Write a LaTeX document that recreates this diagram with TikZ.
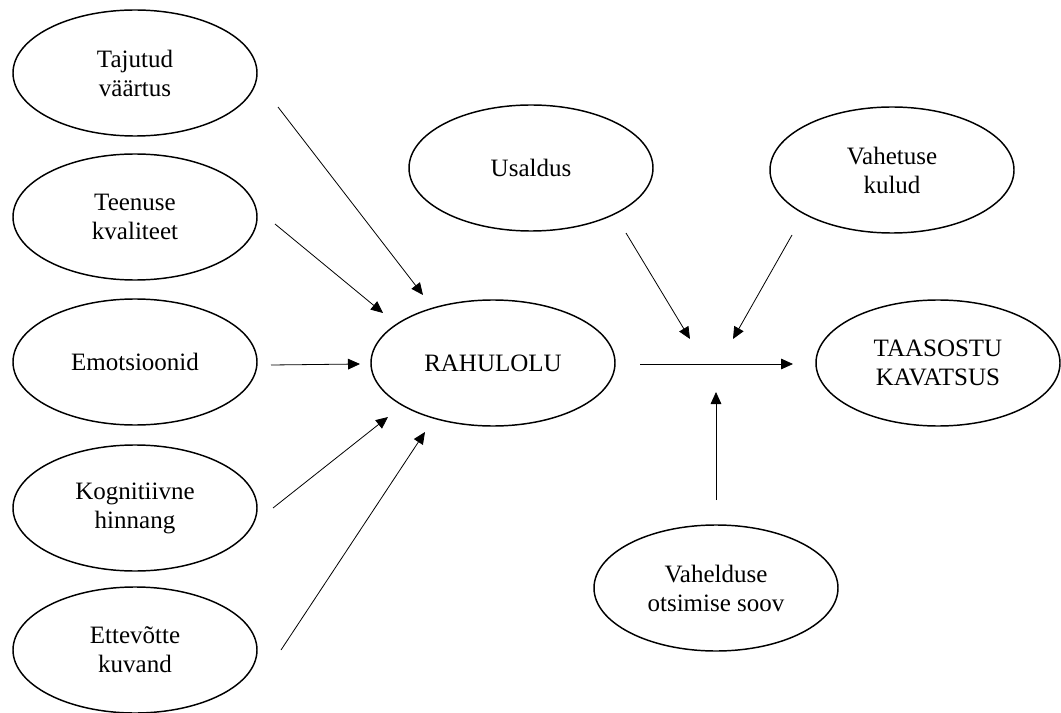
\documentclass[tikz,border=0pt]{standalone}
\usepackage{fontspec}
\setmainfont{Liberation Serif}
\usetikzlibrary{arrows.meta,shapes.geometric}
\begin{document}
\begin{tikzpicture}[x=0.75pt,y=-0.75pt,
  oval/.style={draw, line width=1.1pt, ellipse, minimum width=183pt,
    minimum height=94.5pt, inner sep=0pt, align=center,
    font=\fontsize{18.75}{21.75}\selectfont},
  arr/.style={line width=0.6pt, -{Triangle[length=9pt,width=8pt]}}]
\useasboundingbox (0,0) rectangle (1061,713);

% factors on the left
\node[oval] (taj) at (135,73)  {Tajutud\\väärtus};
\node[oval] (tee) at (135,217) {Teenuse\\kvaliteet};
\node[oval] (emo) at (135,362) {Emotsioonid};
\node[oval] (kog) at (135,508) {Kognitiivne\\hinnang};
\node[oval] (ett) at (135,650) {Ettevõtte\\kuvand};

% central constructs
\node[oval] (rah) at (493,363) {RAHULOLU};
\node[oval] (taa) at (938,363) {TAASOSTU\\KAVATSUS};

% moderators
\node[oval] (usa) at (531,168) {Usaldus};
\node[oval] (vah) at (892,170) {Vahetuse\\kulud};
\node[oval] (vhl) at (716,588) {Vahelduse\\otsimise soov};

% arrow end points
\coordinate (tajS) at (278,107); \coordinate (tajE) at (423,295);
\coordinate (teeS) at (275,224); \coordinate (teeE) at (383,313);
\coordinate (emoS) at (271,365); \coordinate (emoE) at (360,364);
\coordinate (kogS) at (273,508); \coordinate (kogE) at (388,417);
\coordinate (ettS) at (281,650); \coordinate (ettE) at (425,432);
\coordinate (midS) at (640,364); \coordinate (midE) at (793,364);
\coordinate (usaS) at (626,233); \coordinate (usaE) at (690,339);
\coordinate (vahS) at (792,235); \coordinate (vahE) at (733,339);
\coordinate (vhlS) at (716,500); \coordinate (vhlE) at (716,392);

% influences on satisfaction
\draw[arr] (tajS) -- (tajE);
\draw[arr] (teeS) -- (teeE);
\draw[arr] (emoS) -- (emoE);
\draw[arr] (kogS) -- (kogE);
\draw[arr] (ettS) -- (ettE);

% satisfaction to repurchase intention, with moderating effects
\draw[arr] (midS) -- (midE);
\draw[arr] (usaS) -- (usaE);
\draw[arr] (vahS) -- (vahE);
\draw[arr] (vhlS) -- (vhlE);
\end{tikzpicture}
\end{document}
